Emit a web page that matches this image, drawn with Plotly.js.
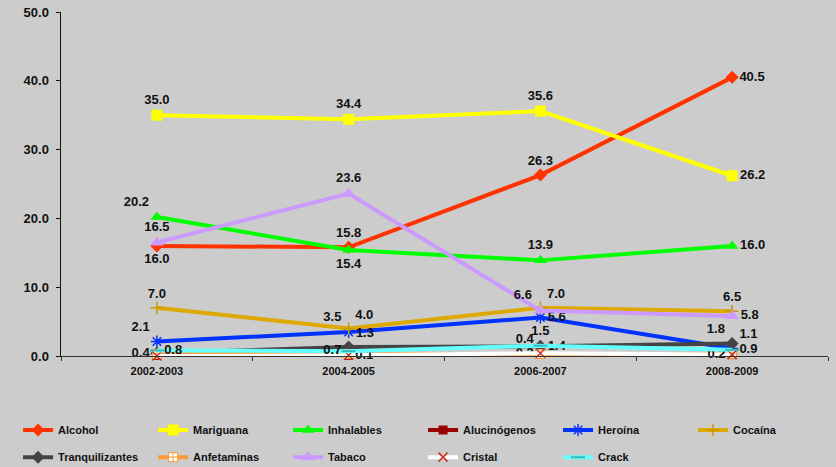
<!DOCTYPE html>
<html>
<head>
<meta charset="utf-8">
<script src="https://cdn.plot.ly/plotly-3.0.1.min.js"></script>
<style>html,body{margin:0;padding:0;background:#cccccc;}#chart{width:836px;height:467px;}</style>
</head>
<body>
<div id="chart"></div>
<script>
var categories = ["2002-2003", "2004-2005", "2006-2007", "2008-2009"];
var yTickVals = [0, 10, 20, 30, 40, 50];

var alcohol = [16.0, 15.8, 26.3, 40.5];
var mariguana = [35.0, 34.4, 35.6, 26.2];
var inhalables = [20.2, 15.4, 13.9, 16.0];
var alucinogenos = [0.1, 0.1, 0.3, 0.2];
var heroina = [2.1, 3.5, 5.6, 1.1];
var cocaina = [7.0, 4.0, 7.0, 6.5];
var tranquilizantes = [0.4, 1.3, 1.4, 1.8];
var anfetaminas = [0.3, 0.3, 0.3, 0.3];
var tabaco = [16.5, 23.6, 6.6, 5.8];
var cristal = [0.0, 0.1, 0.4, 0.2];
var crack = [0.8, 0.7, 1.5, 0.9];

// which points carry a visible label, and where
var alcoholLbl = [true, true, true, true];
var alcoholPos = ["bottom center", "top center", "top center", "middle right"];
var mariguanaLbl = [true, true, true, true];
var mariguanaPos = ["top center", "top center", "top center", "middle right"];
var inhalablesLbl = [true, true, true, true];
var inhalablesPos = ["top left", "bottom center", "top center", "middle right"];
var alucinogenosLbl = [false, false, true, false];
var alucinogenosPos = ["middle left", "middle left", "middle left", "middle left"];
var heroinaLbl = [true, true, true, true];
var heroinaPos = ["top left", "top left", "middle right", "top right"];
var cocainaLbl = [true, true, true, true];
var cocainaPos = ["top center", "top right", "top right", "top center"];
var tranquilizantesLbl = [true, true, true, true];
var tranquilizantesPos = ["middle left", "top right", "middle right", "top left"];
var anfetaminasLbl = [false, false, false, false];
var anfetaminasPos = ["middle left", "middle left", "middle left", "middle left"];
var tabacoLbl = [true, true, true, true];
var tabacoPos = ["top center", "top center", "top left", "middle right"];
var cristalLbl = [false, true, true, true];
var cristalPos = ["middle right", "middle right", "top left", "middle left"];
var crackLbl = [true, true, true, true];
var crackPos = ["middle right", "middle left", "top center", "middle right"];

function labels(vals, show) {
  return vals.map(function (v, i) { return show[i] ? v.toFixed(1) : ""; });
}

var labelFont = {family: "Liberation Sans, Arial, sans-serif", size: 13, color: "#111111", weight: "bold"};

function series(name, vals, show, pos, color, marker, legend) {
  return {
    type: "scatter",
    mode: "lines+markers+text",
    name: name,
    x: categories,
    y: vals,
    text: labels(vals, show),
    textposition: pos,
    textfont: labelFont,
    cliponaxis: false,
    line: {color: color, width: 4},
    marker: marker,
    legend: legend,
    hoverinfo: "x+y+name"
  };
}

var traces = [
  series("Alcohol", alcohol, alcoholLbl, alcoholPos, "#ff3300",
    {symbol: "diamond", size: 10, color: "#ff3300"}, "legend"),
  series("Mariguana", mariguana, mariguanaLbl, mariguanaPos, "#ffff00",
    {symbol: "square", size: 11, color: "#ffff00"}, "legend"),
  series("Inhalables", inhalables, inhalablesLbl, inhalablesPos, "#00ff00",
    {symbol: "triangle-up", size: 11, color: "#00ff00"}, "legend"),
  series("Alucinógenos", alucinogenos, alucinogenosLbl, alucinogenosPos, "#990000",
    {symbol: "square", size: 9, color: "#990000"}, "legend"),
  series("Heroína", heroina, heroinaLbl, heroinaPos, "#0033ff",
    {symbol: "asterisk", size: 10, color: "#0033ff", line: {color: "#0033ff", width: 1.5}}, "legend"),
  series("Cocaína", cocaina, cocainaLbl, cocainaPos, "#dda800",
    {symbol: "cross-thin", size: 9, color: "#c89800", line: {color: "#c89800", width: 1.5}}, "legend"),
  series("Tranquilizantes", tranquilizantes, tranquilizantesLbl, tranquilizantesPos, "#444444",
    {symbol: "diamond", size: 10, color: "#444444"}, "legend2"),
  series("Anfetaminas", anfetaminas, anfetaminasLbl, anfetaminasPos, "#ff9933",
    {symbol: "square-cross", size: 9, color: "#ffffff", line: {color: "#ff9933", width: 1}}, "legend2"),
  series("Tabaco", tabaco, tabacoLbl, tabacoPos, "#cc99ff",
    {symbol: "triangle-up", size: 12, color: "#cc99ff"}, "legend2"),
  series("Cristal", cristal, cristalLbl, cristalPos, "#ffffff",
    {symbol: "x-thin", size: 9, color: "#cc3322", line: {color: "#cc3322", width: 1.5}}, "legend2"),
  series("Crack", crack, crackLbl, crackPos, "#66ffff",
    {symbol: "line-ew", size: 10, color: "#33bbbb", line: {color: "#33bbbb", width: 2}}, "legend2")
];

var legendFont = {family: "Liberation Sans, Arial, sans-serif", size: 11, color: "#111111", weight: "bold"};

var layout = {
  width: 836,
  height: 467,
  paper_bgcolor: "#cccccc",
  plot_bgcolor: "#cccccc",
  margin: {l: 61, r: 8, t: 12, b: 111, autoexpand: false},
  showlegend: true,
  xaxis: {
    type: "category",
    range: [-0.5, 3.5],
    showline: true,
    linecolor: "#333333",
    linewidth: 1,
    ticks: "outside",
    tickson: "boundaries",
    ticklen: 4,
    tickcolor: "#333333",
    showgrid: false,
    zeroline: false,
    ticklabelstandoff: 5,
    tickfont: {family: "Liberation Sans, Arial, sans-serif", size: 11, color: "#111111", weight: "bold"}
  },
  yaxis: {
    range: [0, 50],
    tickvals: yTickVals,
    tickformat: ".1f",
    showline: true,
    linecolor: "#111111",
    linewidth: 1.5,
    ticks: "outside",
    ticklen: 4,
    tickcolor: "#111111",
    showgrid: false,
    zeroline: false,
    ticklabelstandoff: 4,
    tickfont: {family: "Liberation Sans, Arial, sans-serif", size: 13, color: "#111111", weight: "bold"}
  },
  legend: {
    orientation: "h",
    x: -0.056, xanchor: "left",
    y: -0.215, yanchor: "middle",
    entrywidth: 90, entrywidthmode: "pixels",
    itemwidth: 30,
    bgcolor: "rgba(0,0,0,0)",
    font: legendFont
  },
  legend2: {
    orientation: "h",
    x: -0.056, xanchor: "left",
    y: -0.294, yanchor: "middle",
    entrywidth: 90, entrywidthmode: "pixels",
    itemwidth: 30,
    bgcolor: "rgba(0,0,0,0)",
    font: legendFont
  }
};

Plotly.newPlot("chart", traces, layout, {displayModeBar: false, staticPlot: true});
</script>
</body>
</html>
